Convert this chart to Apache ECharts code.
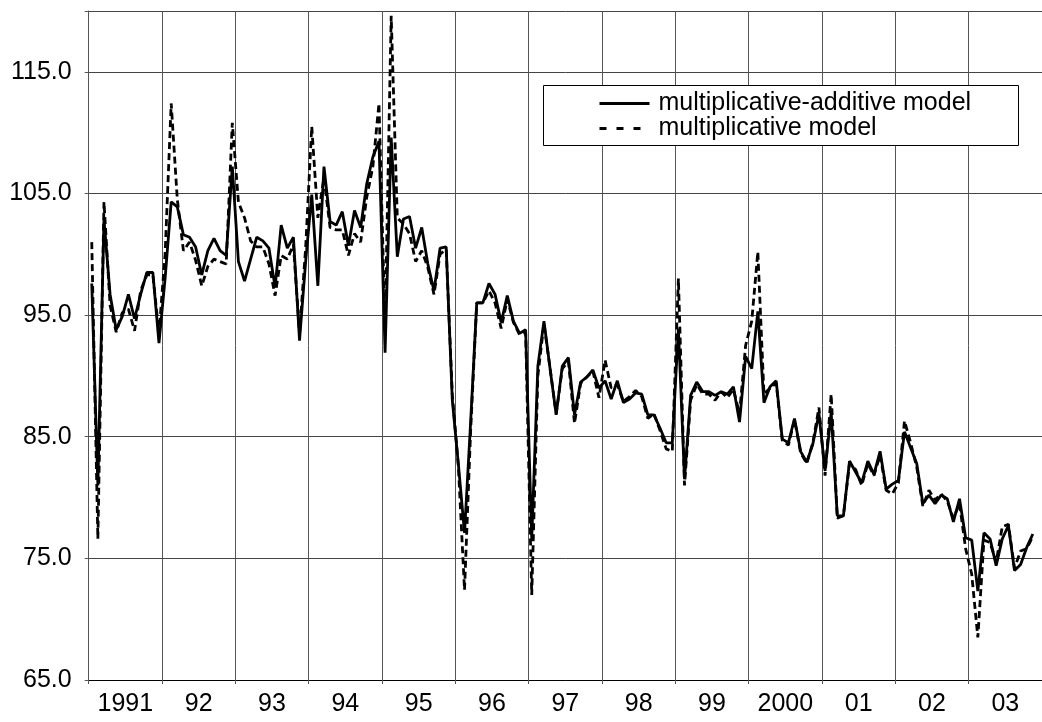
<!DOCTYPE html>
<html>
<head>
<meta charset="utf-8">
<script src="https://cdn.jsdelivr.net/npm/echarts@6/dist/echarts.min.js"></script>
<style>
html,body{margin:0;padding:0;background:#fff;}
#chart{width:1042px;height:722px;}
</style>
</head>
<body>
<div id="chart"></div>
<script>
// Year labels shown under the x axis (one band per year)
const yearLabels = ['1991','92','93','94','95','96','97','98','99','2000','01','02','03'];
const fullYears = [1991,1992,1993,1994,1995,1996,1997,1998,1999,2000,2001,2002,2003];

// Y-axis tick values
const yTicks = [65, 75, 85, 95, 105, 115];

// multiplicative-additive model (monthly, Jan 1991 - Dec 2003)
const multAdd = [
  97.6, 81.0, 102.9, 96.7, 93.8, 94.9, 96.7, 94.7, 96.7, 98.5, 98.5, 92.7,
  98.0, 104.3, 103.9, 101.6, 101.4, 100.6, 98.3, 100.3, 101.3, 100.3, 99.9, 107.2,
  99.4, 97.8, 99.6, 101.4, 101.1, 100.5, 97.3, 102.4, 100.5, 101.4, 92.9, 99.4,
  104.9, 97.4, 107.2, 102.7, 102.4, 103.5, 100.7, 103.6, 102.2, 105.8, 108.0, 109.3,
  91.9, 109.6, 99.8, 102.9, 103.1, 100.5, 102.2, 99.2, 97.0, 100.5, 100.6, 88.0,
  82.7, 77.1, 86.2, 96.0, 96.0, 97.6, 96.7, 94.4, 96.6, 94.5, 93.5, 93.8,
  76.6, 90.8, 94.5, 90.6, 86.8, 90.8, 91.5, 86.8, 89.5, 89.9, 90.5, 89.0,
  89.6, 88.1, 89.6, 87.8, 88.1, 88.6, 88.5, 86.8, 86.8, 85.7, 84.5, 84.5,
  93.9, 81.5, 88.4, 89.5, 88.7, 88.7, 88.4, 88.7, 88.5, 89.1, 86.2, 91.6,
  90.6, 95.3, 87.8, 89.1, 89.6, 84.8, 84.5, 86.5, 83.8, 82.9, 84.4, 86.9,
  82.2, 87.0, 78.5, 78.5, 83.0, 82.1, 81.2, 83.0, 81.9, 83.8, 80.7, 81.1,
  81.4, 85.4, 84.1, 82.8, 79.5, 80.2, 79.5, 80.2, 79.9, 78.0, 79.9, 76.7,
  76.5, 72.3, 77.1, 76.6, 74.4, 76.6, 77.7, 74.0, 74.5, 75.9, 77.0, null
];

// multiplicative model
const mult = [
  101.0, 76.6, 104.3, 95.8, 93.6, 95.2, 95.5, 93.7, 97.0, 98.3, 98.3, 93.5,
  100.0, 112.4, 104.5, 100.3, 101.0, 99.5, 97.4, 99.0, 99.6, 99.4, 99.2, 110.8,
  104.3, 103.0, 101.1, 100.6, 100.6, 99.2, 96.6, 99.9, 99.6, 100.8, 93.5, 100.5,
  110.5, 103.0, 106.3, 102.2, 102.0, 102.0, 99.9, 101.7, 101.0, 104.7, 107.2, 112.4,
  94.0, 119.6, 103.0, 102.5, 101.7, 99.4, 100.3, 98.9, 96.7, 100.0, 100.4, 88.5,
  82.5, 72.4, 85.5, 96.0, 96.0, 97.0, 96.0, 93.9, 96.3, 94.4, 93.4, 93.6,
  72.0, 90.0, 94.3, 90.6, 86.9, 90.6, 91.2, 86.1, 89.4, 89.9, 90.4, 88.2,
  91.3, 89.0, 89.3, 87.9, 88.3, 88.8, 88.3, 86.5, 86.9, 85.5, 84.0, 83.8,
  98.0, 81.0, 88.0, 89.3, 88.5, 88.5, 88.0, 88.7, 88.2, 88.9, 86.9, 92.5,
  94.5, 100.2, 88.5, 89.0, 89.4, 84.7, 84.3, 86.4, 83.7, 82.8, 84.5, 87.4,
  81.8, 88.5, 78.3, 78.5, 82.8, 82.3, 81.0, 82.8, 81.8, 83.5, 80.6, 80.3,
  81.2, 86.3, 84.5, 82.5, 79.3, 80.6, 79.8, 80.3, 79.7, 78.3, 79.5, 75.8,
  73.7, 68.5, 76.5, 76.3, 74.7, 77.6, 77.8, 74.2, 75.6, 75.8, 76.8, null
];

const seriesNames = ['multiplicative-additive model', 'multiplicative model'];

// Monthly categories
const months = [];
fullYears.forEach(y => { for (let m = 1; m <= 12; m++) months.push(y + '-' + (m < 10 ? '0' : '') + m); });

const FONT = "'Liberation Sans', Arial, sans-serif";
const chart = echarts.init(document.getElementById('chart'), null, {renderer: 'canvas'});

chart.setOption({
  animation: false,
  backgroundColor: '#fff',
  grid: { left: 88.7, top: 11, width: 964.6, bottom: 42, containLabel: false },
  xAxis: [
    {
      type: 'category', data: months, boundaryGap: true, show: false, gridIndex: 0
    },
    {
      type: 'category', data: yearLabels, boundaryGap: true, position: 'bottom', gridIndex: 0,
      axisLine: { show: true, lineStyle: { color: '#000', width: 1 } },
      axisTick: { show: true, length: 4, inside: false, lineStyle: { color: '#555', width: 1 } },
      splitLine: { show: true, lineStyle: { color: '#555', width: 1 } },
      axisLabel: { show: true, fontFamily: FONT, fontSize: 25, color: '#000', margin: 12 }
    }
  ],
  yAxis: {
    type: 'value', min: 65, max: 120, interval: 10,
    axisLine: { show: true, lineStyle: { color: '#555', width: 1 } },
    axisTick: { show: true, length: 4, lineStyle: { color: '#555' } },
    splitLine: { show: true, lineStyle: { color: '#444', width: 1 } },
    axisLabel: {
      fontFamily: FONT, fontSize: 25, color: '#000', margin: 17,
      formatter: v => (yTicks.indexOf(v) >= 0 ? v.toFixed(1) : '')
    }
  },
  graphic: [{
    type: 'rect', z: 3, left: 543, top: 85,
    shape: { width: 475, height: 60 },
    style: { fill: '#fff', stroke: '#000', lineWidth: 1 }
  }],
  legend: {
    orient: 'vertical', left: 598, top: 91, z: 5, padding: 0,
    itemWidth: 50, itemHeight: 12, itemGap: 0,
    itemStyle: { opacity: 0, color: 'rgba(0,0,0,0)', borderColor: 'rgba(0,0,0,0)', borderWidth: 0 },
    lineStyle: { opacity: 1 },
    textStyle: { fontFamily: FONT, fontSize: 25, color: '#000', lineHeight: 8, padding: [0, 0, 15, 4] },
    data: [
      { name: seriesNames[0], lineStyle: { width: 3, opacity: 1 } },
      { name: seriesNames[1], lineStyle: { type: [7, 10], width: 3, opacity: 1 } }
    ]
  },
  series: [
    {
      name: seriesNames[0], type: 'line', data: multAdd, xAxisIndex: 0,
      symbol: 'none', showSymbol: false, z: 3,
      lineStyle: { color: '#000', width: 2.8, type: 'solid' }, itemStyle: { color: '#000' }
    },
    {
      name: seriesNames[1], type: 'line', data: mult, xAxisIndex: 0,
      symbol: 'none', showSymbol: false, z: 2,
      lineStyle: { color: '#000', width: 2.8, type: [7, 4] }, itemStyle: { color: '#000' }
    }
  ]
});
</script>
</body>
</html>
